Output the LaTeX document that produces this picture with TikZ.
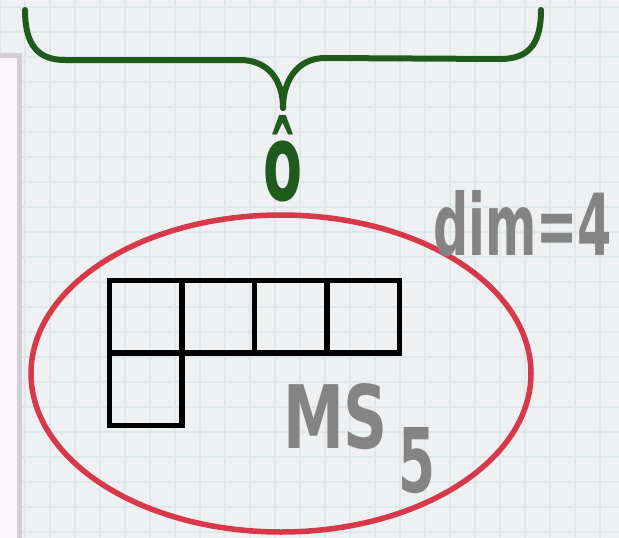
\documentclass[tikz,border=0pt]{standalone}
\usepackage{fontspec}
\usepackage{graphicx}
\newfontfamily\handfont{DejaVu Sans}
\usetikzlibrary{shapes.geometric}
\definecolor{paper}{HTML}{EFF0F2}
\definecolor{gridc}{HTML}{DFE7EB}
\definecolor{panelfill}{HTML}{FCF7FD}
\definecolor{panelline}{HTML}{D2CED4}
\definecolor{braceg}{HTML}{205B1E}
\definecolor{ellred}{HTML}{D7384A}
\definecolor{txtgrey}{HTML}{848484}
\begin{document}
\begin{tikzpicture}[x=1pt,y=-1pt,
  cell/.style={draw=black,line width=5.5pt,minimum size=72.5pt,inner sep=0pt,outer sep=0pt,anchor=north west},
  lbl/.style={inner sep=0pt,outer sep=0pt,anchor=north west},
  bracepath/.style={draw=braceg,line width=6pt,line cap=round},
  gridline/.style={draw=gridc,line width=1.3pt}]
% paper
\fill[paper] (0,0) rectangle (619,538);
\useasboundingbox (0,0) rectangle (619,538);
\foreach \x in {0,25,...,625} \draw[gridline] (\x,0) -- (\x,538);
\foreach \y in {7,32,...,538} \draw[gridline] (0,\y) -- (619,\y);
% left panel
\filldraw[fill=panelfill,draw=panelline,line width=5pt] (-10,55.5) rectangle (19.5,560);
% brace
\coordinate (bl) at (25,10);
\coordinate (br) at (541,10);
\coordinate (tip) at (283,108);
\draw[bracepath] (bl) .. controls (25,45) and (38,60) .. (65,60) -- (240,60) .. controls (268,60) and (283,80) .. (tip);
\draw[bracepath] (br) .. controls (541,45) and (528,59) .. (500,59) -- (325,58) .. controls (298,58) and (283,80) .. (tip);
% o hat
\node[lbl,text=braceg] (ohat) at (263,115) {\resizebox{39pt}{85pt}{\handfont\bfseries ô}};
% ellipse
\node[draw=ellred,line width=5.5pt,ellipse,minimum width=500pt,minimum height=317pt,inner sep=0pt,outer sep=0pt] (ms) at (281,373.5) {};
% Young diagram
\node[cell] (c1) at (109.5,280.5) {};
\node[cell] (c2) at (182,280.5) {};
\node[cell] (c3) at (254.5,280.5) {};
\node[cell] (c4) at (327,280.5) {};
\node[cell] (c5) at (109.5,353) {};
% labels
\node[lbl,text=txtgrey] (dim) at (433,190) {\resizebox{179pt}{65pt}{\handfont\bfseries dim=4}};
\node[lbl,text=txtgrey] (msl) at (283,383) {\resizebox{105pt}{65pt}{\handfont\bfseries MS}};
\node[lbl,text=txtgrey] (five) at (398,427) {\resizebox{37pt}{65pt}{\handfont\bfseries 5}};
\end{tikzpicture}
\end{document}
